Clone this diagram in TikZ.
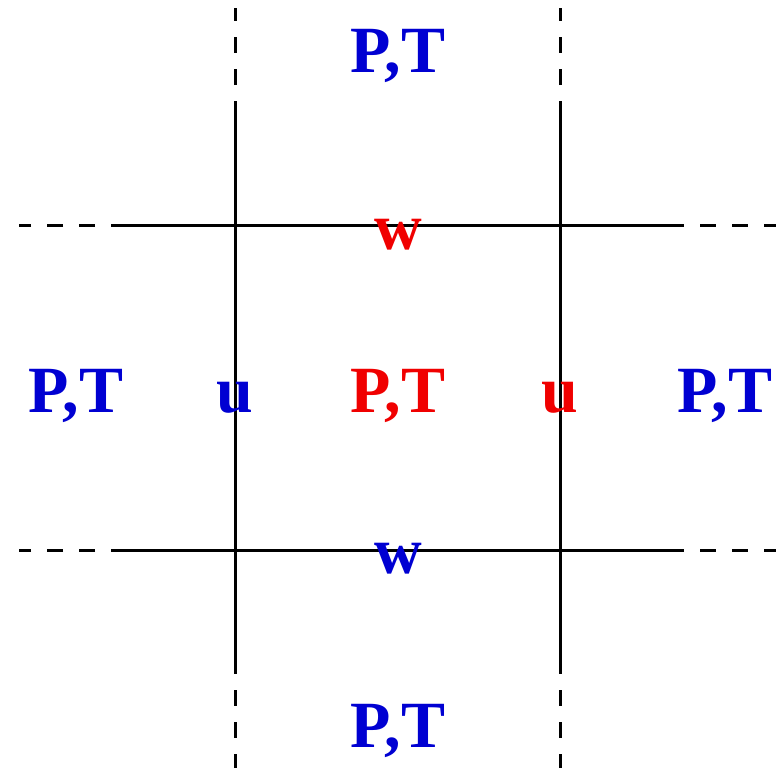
\documentclass[tikz,border=0pt]{standalone}
\usepackage{fontspec}
\setmainfont{Liberation Serif}[BoldFont={Liberation Serif Bold}]
\newfontfamily\lblfont{Liberation Serif Bold}
\definecolor{lblblue}{RGB}{0,0,210}
\definecolor{lblred}{RGB}{240,0,0}
\begin{document}
\begin{tikzpicture}[x=1pt,y=-1pt,
  gridline/.style={line width=3pt,black},
  gridext/.style={line width=3pt,black,dash pattern=on 16pt off 16pt},
  lbl/.style={inner sep=0pt,anchor=base,font=\lblfont\fontsize{66}{78}\selectfont}]
\useasboundingbox (0,0) rectangle (776,768);
% line ends
\coordinate (h1a) at (127,225); \coordinate (h1b) at (668,225);
\coordinate (h1l) at (19,225);  \coordinate (h1r) at (776,225);
\coordinate (h2a) at (127,550); \coordinate (h2b) at (668,550);
\coordinate (h2l) at (19,550);  \coordinate (h2r) at (776,550);
\coordinate (v1a) at (235,117); \coordinate (v1b) at (235,658);
\coordinate (v1t) at (235,8);   \coordinate (v1d) at (235,768);
\coordinate (v2a) at (560,117); \coordinate (v2b) at (560,658);
\coordinate (v2t) at (560,8);   \coordinate (v2d) at (560,768);
% solid lines
\draw[gridline] (h1a) -- (h1b);
\draw[gridline] (h2a) -- (h2b);
\draw[gridline] (v1a) -- (v1b);
\draw[gridline] (v2a) -- (v2b);
% dashed extensions
\draw[gridext] (h1a) -- (h1l);
\draw[gridext] (h1b) -- (h1r);
\draw[gridext] (h2a) -- (h2l);
\draw[gridext] (h2b) -- (h2r);
\draw[gridext] (v1a) -- (v1t);
\draw[gridext] (v1b) -- (v1d);
\draw[gridext] (v2a) -- (v2t);
\draw[gridext] (v2b) -- (v2d);
% labels
\node[lbl,text=lblblue] (pttop) at (398,73) {P,T};
\node[lbl,text=lblblue] (ptbot) at (398,747) {P,T};
\node[lbl,text=lblblue] (ptleft) at (76,412) {P,T};
\node[lbl,text=lblblue] (ptright) at (725,412) {P,T};
\node[lbl,text=lblred] (ptmid) at (398,412) {P,T};
\node[lbl,text=lblblue] (uleft) at (235,412) {u};
\node[lbl,text=lblred] (uright) at (560,412) {u};
\node[lbl,text=lblred] (wtop) at (398,249) {w};
\node[lbl,text=lblblue] (wbot) at (398,573) {w};
\end{tikzpicture}
\end{document}
